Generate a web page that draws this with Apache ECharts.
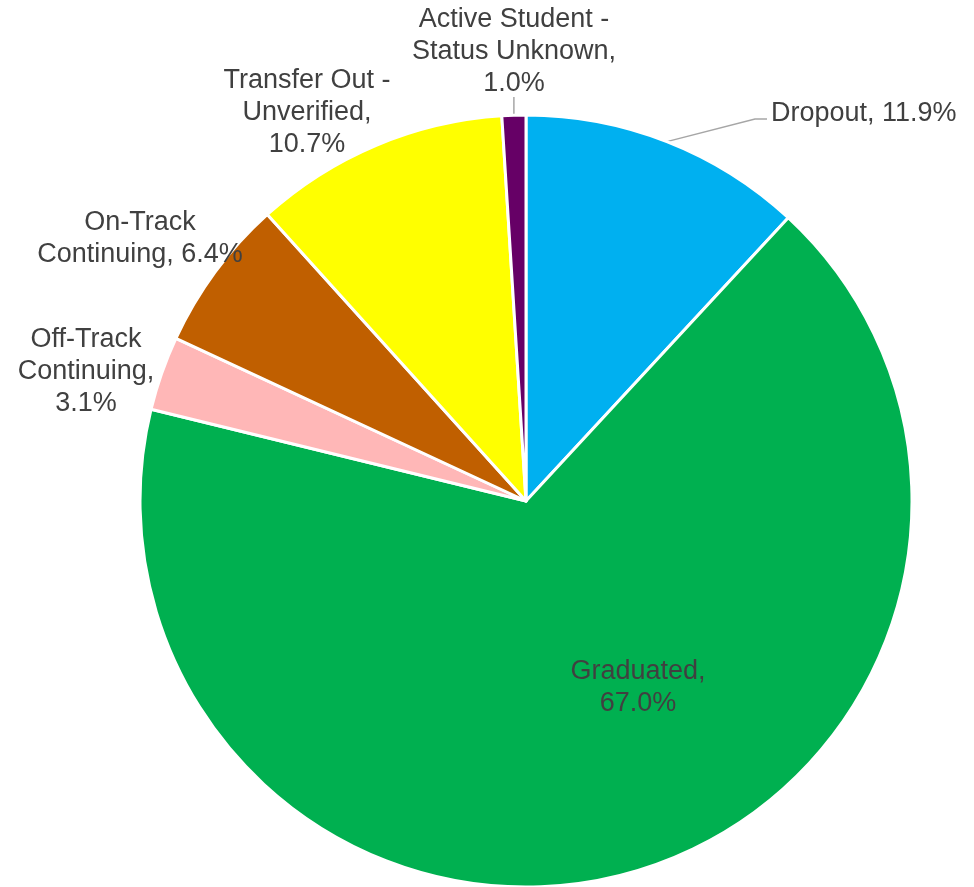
<!DOCTYPE html>
<html>
<head>
<meta charset="utf-8">
<script src="https://cdn.jsdelivr.net/npm/echarts@6/dist/echarts.min.js"></script>
<style>
  html, body { margin: 0; padding: 0; background: #fff; }
  #chart { width: 974px; height: 887px; }
</style>
</head>
<body>
<div id="chart"></div>
<script>
// Student outcome shares (percent), clockwise from 12 o'clock
const categories = [
  'Dropout',
  'Graduated',
  'Off-Track Continuing',
  'On-Track Continuing',
  'Transfer Out - Unverified',
  'Active Student - Status Unknown'
];
const values = [11.9, 67.0, 3.1, 6.4, 10.7, 1.0];
const colors = ['#00B0F0', '#00B050', '#FFB7B7', '#C05F00', '#FFFF00', '#660066'];

// How each label's text wraps onto lines
const labelTemplates = [
  '{name}, {pct}',
  'Graduated,\n{pct}',
  'Off-Track\nContinuing,\n{pct}',
  'On-Track\nContinuing, {pct}',
  'Transfer Out -\nUnverified,\n{pct}',
  'Active Student -\nStatus Unknown,\n{pct}'
];

// Label anchor placement (x, y, align) for each slice
const labelPlacement = [
  { x: 771, y: 114, align: 'left' },
  { x: 638, y: 688, align: 'center' },
  { x: 86,  y: 372, align: 'center' },
  { x: 140, y: 239, align: 'center' },
  { x: 307, y: 113, align: 'center' },
  { x: 514, y: 52,  align: 'center' }
];

const chart = echarts.init(document.getElementById('chart'), null, { renderer: 'canvas' });

const data = categories.map((name, i) => ({
  name,
  value: values[i],
  itemStyle: { color: colors[i] },
  labelLine: { show: i === 0 || i === 5 }
}));

chart.setOption({
  animation: false,
  backgroundColor: '#ffffff',
  series: [{
    type: 'pie',
    center: [526, 501],
    radius: 386,
    startAngle: 90,
    clockwise: true,
    avoidLabelOverlap: false,
    data,
    itemStyle: { borderColor: '#ffffff', borderWidth: 3 },
    label: {
      show: true,
      position: 'outside',
      fontFamily: '"Liberation Sans", Arial, sans-serif',
      fontSize: 27,
      lineHeight: 32,
      color: '#404040',
      formatter: (p) => labelTemplates[p.dataIndex]
        .replace('{name}', p.name)
        .replace('{pct}', p.value.toFixed(1) + '%')
    },
    labelLine: {
      lineStyle: { color: '#A6A6A6', width: 1.5 }
    },
    labelLayout: (params) => {
      const i = params.dataIndex;
      const pl = labelPlacement[i];
      const out = { x: pl.x, y: pl.y, align: pl.align, verticalAlign: 'middle' };
      const pts = params.labelLinePoints;
      if (pts && i === 0) {
        out.labelLinePoints = [pts[0], [755, 119], [767, 119]];
      } else if (pts && i === 5) {
        out.labelLinePoints = [pts[0], [pts[0][0], 97], [pts[0][0], 97]];
      }
      return out;
    }
  }]
});
</script>
</body>
</html>
